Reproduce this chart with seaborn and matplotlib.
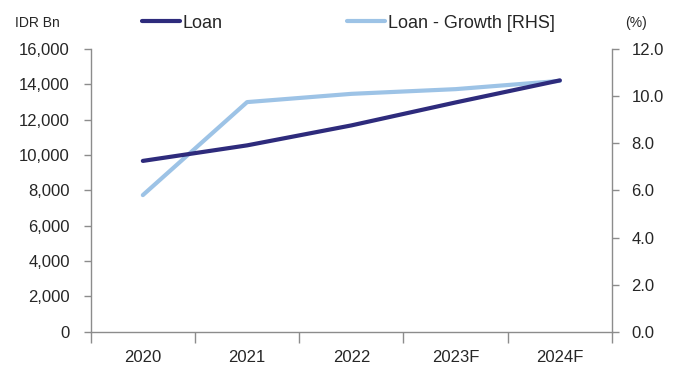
import matplotlib
matplotlib.use("Agg")
import matplotlib.pyplot as plt
from matplotlib.lines import Line2D
from matplotlib.ticker import FuncFormatter, FixedLocator, NullFormatter
import seaborn as sns
import pandas as pd

years = ["2020", "2021", "2022", "2023F", "2024F"]
loan = [9670, 10550, 11680, 12980, 14230]          # IDR Bn
loan_growth = [5.8, 9.75, 10.1, 10.3, 10.65]        # %

NAVY = "#2E2B7C"
LIGHT = "#9DC3E6"
GRAY = "#8C8C8C"
TXT = "#262626"

sns.set_theme(style="white")
plt.rcParams["font.family"] = ["Liberation Sans", "DejaVu Sans"]

df = pd.DataFrame({"x": range(len(years)), "loan": loan, "growth": loan_growth})

fig = plt.figure(figsize=(6.79, 3.72), dpi=100)
ax = fig.add_axes([0.1336, 0.1083, 0.9013 - 0.1336, 0.868 - 0.1083])
ax2 = ax.twinx()

sns.lineplot(data=df, x="x", y="loan", ax=ax, color=NAVY, linewidth=3, legend=False)
sns.lineplot(data=df, x="x", y="growth", ax=ax2, color=LIGHT, linewidth=3, legend=False)
ax.set_zorder(ax2.get_zorder() + 1)
ax.patch.set_visible(False)

ax.set_xlim(-0.5, len(years) - 0.5)
ax.set_ylim(0, 16000)
ax2.set_ylim(0, 12)
ax.set_yticks(range(0, 16001, 2000))
ax2.set_yticks([0, 2, 4, 6, 8, 10, 12])
ax.yaxis.set_major_formatter(FuncFormatter(lambda v, p: f"{int(v):,}"))
ax2.yaxis.set_major_formatter(FuncFormatter(lambda v, p: f"{v:.1f}"))

# category labels centred, ticks on category boundaries
ax.set_xticks(range(len(years)))
ax.set_xticklabels(years)
ax.xaxis.set_minor_locator(FixedLocator([i - 0.5 for i in range(len(years) + 1)]))
ax.xaxis.set_minor_formatter(NullFormatter())
ax.tick_params(axis="x", which="major", length=0, pad=13, labelsize=12, labelcolor=TXT)
ax.tick_params(axis="x", which="minor", length=8, width=1, color=GRAY, direction="out", bottom=True)
ax.tick_params(axis="y", length=5, width=1, color=GRAY, direction="out", left=True,
               labelsize=12, labelcolor=TXT, pad=10)
ax2.tick_params(axis="y", length=5, width=1, color=GRAY, direction="out", right=True,
                labelsize=12, labelcolor=TXT, pad=9)

ax.set_xlabel("")
ax.set_ylabel("")
ax2.set_ylabel("")
for a in (ax, ax2):
    a.spines["top"].set_visible(False)
    for side in ("left", "right", "bottom"):
        a.spines[side].set_color(GRAY)
        a.spines[side].set_linewidth(1)
ax.spines["right"].set_visible(False)
ax2.spines["left"].set_visible(False)
ax2.spines["bottom"].set_visible(False)

fig.text(0.022, 0.938, "IDR Bn", fontsize=10, color=TXT, va="center", ha="left")
fig.text(0.92, 0.938, "(%)", fontsize=10, color=TXT, va="center", ha="left")

handles = [Line2D([], [], color=NAVY, linewidth=3), Line2D([], [], color=LIGHT, linewidth=3)]
fig.legend(handles, ["Loan", "Loan - Growth [RHS]"], loc="center", bbox_to_anchor=(0.513, 0.938),
           ncol=2, frameon=False, fontsize=13, handlelength=2.1, handletextpad=0.15,
           columnspacing=6.9, labelcolor=TXT, borderpad=0, borderaxespad=0)

fig.savefig("out.png", dpi=100)
